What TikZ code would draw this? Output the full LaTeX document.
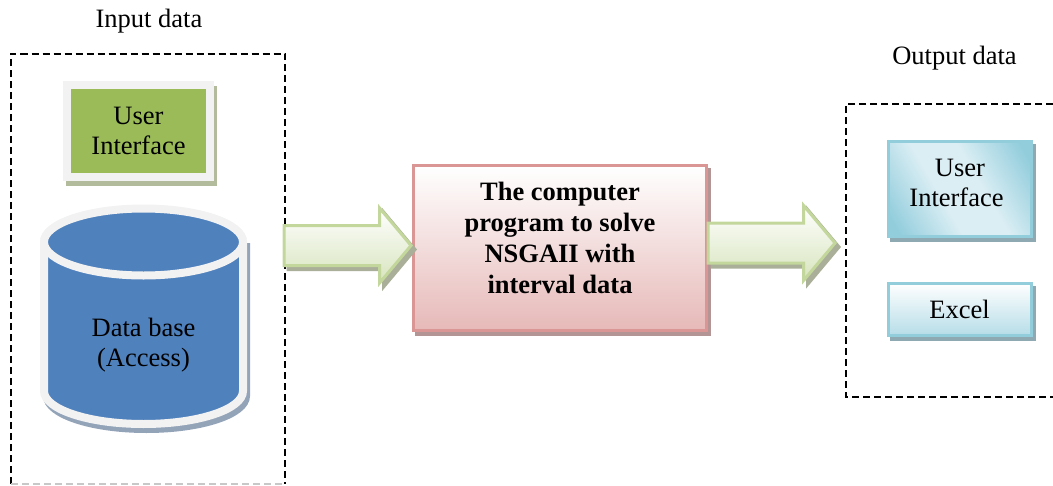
\documentclass[tikz,border=0pt]{standalone}
\usepackage{fontspec}
\setmainfont{Liberation Serif}
\usetikzlibrary{shapes.arrows}
\usetikzlibrary{shadows}
\definecolor{frameline}{HTML}{C8C8C8}
\definecolor{paleborder}{HTML}{F2F2F2}
\definecolor{grassfill}{HTML}{9BBB59}
\definecolor{grassshadow}{HTML}{B2BC9C}
\definecolor{basefill}{HTML}{4F81BD}
\definecolor{baseshadow}{HTML}{93A3B8}
\definecolor{roseline}{HTML}{D99694}
\definecolor{rosefill}{HTML}{E6B9B8}
\definecolor{roseshadow}{HTML}{B39595}
\definecolor{leafline}{HTML}{C3D69B}
\definecolor{leaffill}{HTML}{D7E4BD}
\definecolor{leafshadow}{HTML}{A9AF98}
\definecolor{aqualine}{HTML}{92CDDC}
\definecolor{aqualight}{HTML}{DBEEF4}
\definecolor{aquafill}{HTML}{B7DDE8}
\definecolor{aquashadow}{HTML}{8FA9B2}
\pgfdeclarehorizontalshading{aquaband}{100bp}{color(0bp)=(aqualine); color(20bp)=(aqualine); color(42bp)=(aqualight); color(58bp)=(aqualight); color(80bp)=(aqualine); color(100bp)=(aqualine)}
\tikzset{bodytext/.style={font=\fontsize{26.5}{30.5}\selectfont, align=center}}
\tikzset{framed/.style={black, line width=2pt, dash pattern=on 7pt off 4pt}}
\tikzset{greenbox/.style={bodytext, draw=paleborder, line width=8pt, fill=grassfill, minimum width=143pt, minimum height=92pt, drop shadow={shadow xshift=3pt, shadow yshift=-5pt, opacity=1, fill=grassshadow, draw=grassshadow}}}
\tikzset{mainbox/.style={draw=roseline, line width=3pt, top color=white, bottom color=rosefill, minimum width=293pt, minimum height=165.5pt, drop shadow={shadow xshift=3pt, shadow yshift=-4pt, opacity=1, fill=roseshadow, draw=roseshadow}}}
\tikzset{blockarrow/.style={shape=single arrow, anchor=tip, draw=leafline, line width=3pt, top color=white, bottom color=leaffill, inner xsep=0pt, inner ysep=18.5pt, minimum height=127pt, minimum width=72pt, single arrow head extend=17.5pt, single arrow tip angle=100, single arrow head indent=0pt, drop shadow={shadow xshift=4pt, shadow yshift=-4pt, opacity=1, fill=leafshadow, draw=leafshadow}}}
\tikzset{aquabox/.style={bodytext, draw=aqualine, line width=3pt, minimum width=143pt, drop shadow={shadow xshift=3pt, shadow yshift=-4pt, opacity=1, fill=aquashadow, draw=aquashadow}}}
\tikzset{drumside/.style={line width=8pt}}

\begin{document}
\begin{tikzpicture}[x=1pt, y=-1pt]
    \useasboundingbox (0,0) rectangle (1053,485);
    \node[bodytext] (inputtitle) at (149,21) {Input data};
    \node[bodytext] (outputtitle) at (954.5,58) {Output data};
    % dashed frames
    \draw[framed] (11,484) -- (11,53.5) -- (285,53.5) -- (285,484);
    \draw[framed, frameline, line width=1.5pt] (11,484) -- (285,484);
    \draw[framed] (1053,104) -- (846,104) -- (846,397) -- (1053,397);
    % left side
    \node[greenbox] (userin) at (138.5,131) {User\\Interface};
    \draw[drumside, baseshadow, fill=baseshadow] (47,247) -- (47,396) arc (180:0:99.5 and 33) -- (246,247) -- cycle;
    \draw[drumside, paleborder, fill=basefill] (44,242) -- (44,391) arc (180:0:99.5 and 33) -- (243,242) arc (0:-180:99.5 and 33) -- cycle;
    \draw[drumside, paleborder, fill=basefill] (143.5,242) ellipse (99.5 and 33.5);
    \node[bodytext] (database) at (143.5,345) {Data base\\(Access)};
    % middle
    \node[mainbox] (solver) at (560,248) {};
    \node[bodytext, font=\fontsize{26.5}{31}\selectfont\bfseries] (solvertext) at (560,238) {The computer\\program to solve\\NSGAII with\\interval data};
    \node[blockarrow] (inarrow) at (413,245.5) {};
    \node[blockarrow] (outarrow) at (837,243) {};
    % right side
    \node[aquabox, minimum height=95pt, shading=aquaband, shading angle=30] (userout) at (959.5,188.5) {};
    \node[bodytext] (useroutlabel) at (956.5,183) {\hspace*{7pt}User\\Interface};
    \node[aquabox, minimum height=52pt, top color=white, bottom color=aquafill] (excel) at (959.5,309) {Excel};
\end{tikzpicture}
\end{document}
